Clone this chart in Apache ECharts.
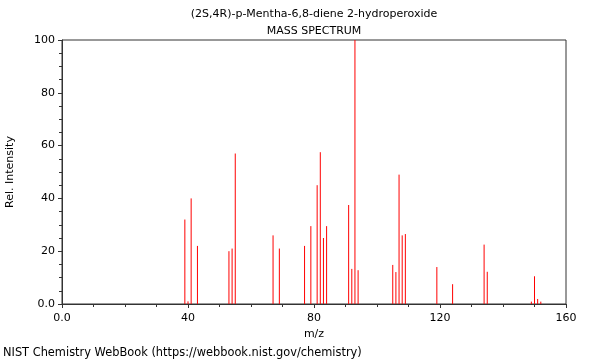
<!DOCTYPE html>
<html><head><meta charset="utf-8">
<script src="https://cdn.jsdelivr.net/npm/echarts@6/dist/echarts.min.js"></script>
<style>html,body{margin:0;padding:0;background:#fff}#c{width:600px;height:360px}</style>
</head><body><div id="c"></div>
<script>
var titleLine1 = "(2S,4R)-p-Mentha-6,8-diene 2-hydroperoxide";
var titleLine2 = "MASS SPECTRUM";
var footer = "NIST Chemistry WebBook (https://webbook.nist.gov/chemistry)";
var mzValues = [39, 40, 41, 43, 53, 54, 55, 67, 69, 77, 79, 81, 82, 83, 84, 91, 92, 93, 94, 105, 106, 107, 108, 109, 119, 124, 134, 135, 149, 150, 151, 152];
var intensities = [32, 1, 40, 22, 20, 21, 57, 26, 21, 22, 29.5, 45, 57.5, 25, 29.5, 37.5, 13.3, 100, 12.8, 14.8, 12.1, 49, 26, 26.5, 14, 7.5, 22.5, 12.2, 0.9, 10.5, 1.9, 0.9];
var xTicks = [0, 40, 80, 120, 160];
var yTicks = [0, 20, 40, 60, 80, 100];

var peaks = mzValues.map(function (m, i) { return [m, intensities[i]]; });
var FONT = "DejaVu Sans";
var chart = echarts.init(document.getElementById('c'), null, {renderer: 'canvas'});
chart.setOption({
  animation: false,
  backgroundColor: '#fff',
  graphic: [
    {type: 'text', x: 314, y: 14, style: {text: titleLine1, fontFamily: FONT, fontSize: 11, fill: '#000', align: 'center', verticalAlign: 'middle'}},
    {type: 'text', x: 314, y: 31, style: {text: titleLine2, fontFamily: FONT, fontSize: 11, fill: '#000', align: 'center', verticalAlign: 'middle'}},
    {type: 'text', x: 3, y: 353, style: {text: footer, fontFamily: FONT, fontSize: 11.4, fill: '#000', align: 'left', verticalAlign: 'middle'}}
  ],
  grid: {left: 62, right: 34, top: 40, bottom: 56, containLabel: false, outerBoundsMode: 'none', show: true, borderColor: '#333', borderWidth: 1, backgroundColor: 'transparent'},
  xAxis: {
    type: 'value', min: xTicks[0], max: xTicks[xTicks.length - 1], interval: 40,
    name: 'm/z', nameLocation: 'middle', nameGap: 23,
    nameTextStyle: {fontFamily: FONT, fontSize: 11, color: '#000'},
    axisLine: {show: true, lineStyle: {color: '#333', width: 1}},
    axisTick: {show: true, length: 4, lineStyle: {color: '#333'}},
    minorTick: {show: true, splitNumber: 4, length: 3, lineStyle: {color: '#333'}},
    splitLine: {show: false},
    axisLabel: {fontFamily: FONT, fontSize: 11, color: '#000', margin: 9,
      formatter: function (v) { return v === 0 ? '0.0' : String(v); }}
  },
  yAxis: {
    type: 'value', min: yTicks[0], max: yTicks[yTicks.length - 1], interval: 20,
    name: 'Rel. Intensity', nameLocation: 'middle', nameGap: 46, nameRotate: 90,
    nameTextStyle: {fontFamily: FONT, fontSize: 11, color: '#000'},
    axisLine: {show: true, lineStyle: {color: '#333', width: 1}},
    axisTick: {show: true, length: 4, lineStyle: {color: '#333'}},
    minorTick: {show: true, splitNumber: 4, length: 3, lineStyle: {color: '#333'}},
    splitLine: {show: false},
    axisLabel: {fontFamily: FONT, fontSize: 11, color: '#000', margin: 7,
      formatter: function (v) { return v === 0 ? '0.0' : String(v); }}
  },
  series: [{
    type: 'custom',
    data: peaks,
    renderItem: function (params, api) {
      var p0 = api.coord([api.value(0), 0]);
      var p1 = api.coord([api.value(0), api.value(1)]);
      return {type: 'line', shape: {x1: p0[0], y1: p0[1], x2: p1[0], y2: p1[1]},
        style: {stroke: '#ff0000', lineWidth: 1}};
    },
    encode: {x: 0, y: 1}
  }]
});
</script></body></html>
